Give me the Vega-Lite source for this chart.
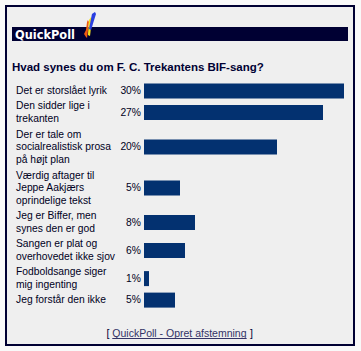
{
  "$schema": "https://vega.github.io/schema/vega-lite/v6.json",
  "width": 348,
  "height": 339,
  "autosize": {"type": "none"},
  "padding": {"left": 6, "top": 6, "right": 7, "bottom": 6},
  "background": "#F9F9F9",
  "config": {
    "view": {"fill": "#EFEFEF", "stroke": "#000033", "strokeWidth": 2},
    "axis": {"disable": true}
  },
  "datasets": {
    "poll": [
      {"i": 1, "label": ["Det er storslået lyrik"], "v": 30, "pct": "30%"},
      {"i": 2, "label": ["Den sidder lige i", "trekanten"], "v": 26.85, "pct": "27%"},
      {"i": 3, "label": ["Der er tale om", "socialrealistisk prosa", "på højt plan"], "v": 19.95, "pct": "20%"},
      {"i": 4, "label": ["Værdig aftager til", "Jeppe Aakjærs", "oprindelige tekst"], "v": 5.4, "pct": "5%"},
      {"i": 5, "label": ["Jeg er Biffer, men", "synes den er god"], "v": 7.65, "pct": "8%"},
      {"i": 6, "label": ["Sangen er plat og", "overhovedet ikke sjov"], "v": 6.15, "pct": "6%"},
      {"i": 7, "label": ["Fodboldsange siger", "mig ingenting"], "v": 0.75, "pct": "1%"},
      {"i": 8, "label": ["Jeg forstår den ikke"], "v": 4.65, "pct": "5%"}
    ],
    "one": [{}]
  },
  "layer": [
    {
      "data": {"name": "poll"},
      "transform": [
        {"calculate": "length(datum.label)", "as": "n"},
        {"calculate": "2 + 13 * datum.n", "as": "h"},
        {"window": [{"op": "sum", "field": "h", "as": "cum"}], "sort": [{"field": "i"}], "frame": [null, 0]},
        {"calculate": "77.6 + datum.cum - datum.h / 2", "as": "yc"},
        {"calculate": "datum.yc - (datum.n - 1) * 6.25", "as": "ly"},
        {"calculate": "datum.yc - 7.5", "as": "y0"},
        {"calculate": "datum.yc + 7.5", "as": "y1"}
      ],
      "layer": [
        {
          "mark": {"type": "rect", "color": "#033170"},
          "encoding": {
            "x": {"field": "v", "type": "quantitative", "scale": {"domain": [-20.7, 31.5], "nice": false, "zero": false}},
            "x2": {"datum": 0},
            "y": {"field": "y0", "type": "quantitative", "scale": {"domain": [0, 339], "reverse": true, "nice": false, "zero": false}},
            "y2": {"field": "y1"}
          }
        },
        {
          "mark": {"type": "text", "align": "left", "baseline": "middle", "lineHeight": 12.5, "font": "Liberation Sans", "fontSize": 10.3, "color": "#000022"},
          "encoding": {
            "x": {"datum": -19.2},
            "y": {"field": "ly", "type": "quantitative"},
            "text": {"field": "label"}
          }
        },
        {
          "mark": {"type": "text", "align": "right", "baseline": "middle", "dx": -3, "font": "Liberation Sans", "fontSize": 10.3, "color": "#000022"},
          "encoding": {
            "x": {"datum": 0},
            "y": {"field": "yc", "type": "quantitative"},
            "text": {"field": "pct"}
          }
        }
      ]
    },
    {
      "data": {"name": "one"},
      "mark": {"type": "rect", "color": "#000033"},
      "encoding": {
        "x": {"datum": -19.8},
        "x2": {"datum": 30.6},
        "y": {"datum": 21},
        "y2": {"datum": 35}
      }
    },
    {
      "data": {"name": "one"},
      "mark": {"type": "text", "text": "QuickPoll", "align": "left", "baseline": "alphabetic", "font": "DejaVu Sans", "fontWeight": "bold", "fontSize": 11.4, "color": "#FFFFFF"},
      "encoding": {"x": {"datum": -19.35}, "y": {"datum": 32.5}}
    },
    {
      "data": {"name": "one"},
      "mark": {"type": "point", "filled": true, "opacity": 1, "size": 676, "color": "#F05A10", "shape": "M-0.12,-0.38 L-0.04,-0.23 L-0.19,1 L-0.27,0.92 L-0.42,0.69 L-0.27,0.38 L-0.19,-0.23 Z"},
      "encoding": {"x": {"datum": -8.175}, "y": {"datum": 19}}
    },
    {
      "data": {"name": "one"},
      "mark": {"type": "point", "filled": true, "opacity": 1, "size": 676, "color": "#F2E21E", "shape": "M0.12,-0.62 L0.19,-0.46 L0.04,0.85 L-0.12,0.77 L-0.04,-0.38 Z"},
      "encoding": {"x": {"datum": -8.175}, "y": {"datum": 19}}
    },
    {
      "data": {"name": "one"},
      "mark": {"type": "point", "filled": true, "opacity": 1, "size": 676, "color": "#2A3FE0", "shape": "M0.42,-1 L0.5,-0.85 L0.12,0.38 L-0.04,0.31 L0.19,-0.85 Z"},
      "encoding": {"x": {"datum": -8.175}, "y": {"datum": 19}}
    },
    {
      "data": {"name": "one"},
      "mark": {"type": "text", "text": "Hvad synes du om F. C. Trekantens BIF-sang?", "align": "left", "baseline": "alphabetic", "font": "Liberation Sans", "fontWeight": "bold", "fontSize": 11.5, "color": "#000033"},
      "encoding": {"x": {"datum": -19.8}, "y": {"datum": 65}}
    },
    {
      "data": {"name": "one"},
      "mark": {"type": "text", "text": "[", "align": "right", "baseline": "alphabetic", "font": "Liberation Sans", "fontSize": 10.5, "color": "#000033"},
      "encoding": {"x": {"datum": -5.2}, "y": {"datum": 330.7}}
    },
    {
      "data": {"name": "one"},
      "mark": {"type": "text", "text": "QuickPoll - Opret afstemning", "align": "left", "baseline": "alphabetic", "font": "Liberation Sans", "fontSize": 10.5, "color": "#333366"},
      "encoding": {"x": {"datum": -4.755}, "y": {"datum": 330.7}}
    },
    {
      "data": {"name": "one"},
      "mark": {"type": "rule", "color": "#333366", "strokeWidth": 1},
      "encoding": {"x": {"datum": -4.755}, "x2": {"datum": 15.4}, "y": {"datum": 332.5}}
    },
    {
      "data": {"name": "one"},
      "mark": {"type": "text", "text": "]", "align": "left", "baseline": "alphabetic", "font": "Liberation Sans", "fontSize": 10.5, "color": "#000033"},
      "encoding": {"x": {"datum": 15.9}, "y": {"datum": 330.7}}
    }
  ]
}
